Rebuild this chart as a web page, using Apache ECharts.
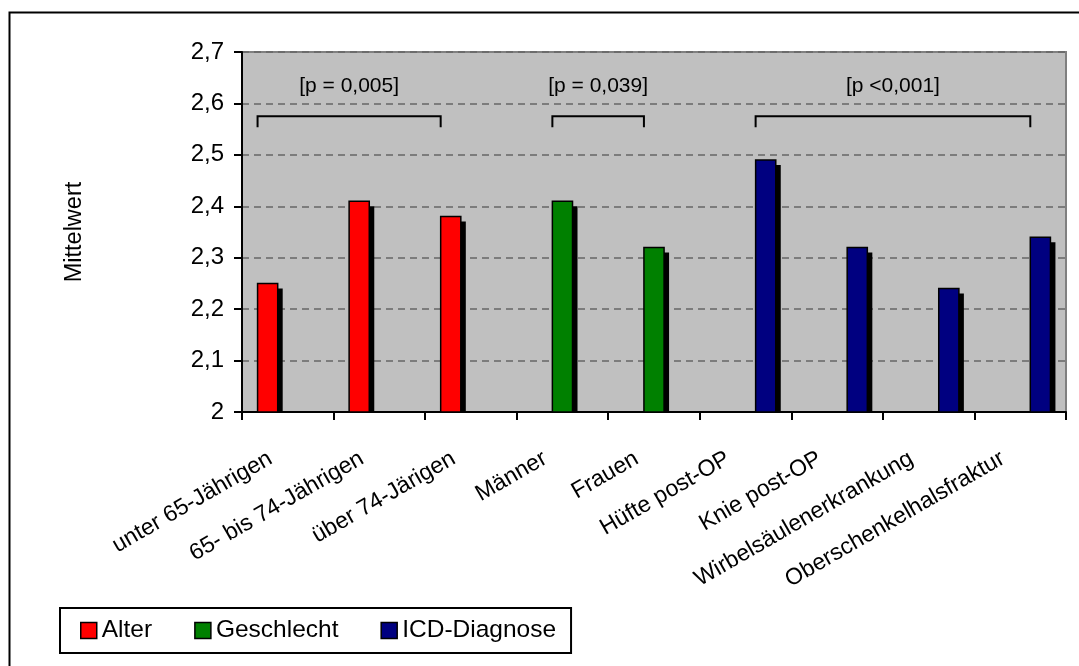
<!DOCTYPE html>
<html>
<head>
<meta charset="utf-8">
<title>Mittelwert nach Alter, Geschlecht und ICD-Diagnose</title>
<script src="https://cdn.jsdelivr.net/npm/echarts@6/dist/echarts.min.js"></script>
<style>
  html, body { margin: 0; padding: 0; background: #fff; }
  #chart { width: 1079px; height: 666px; }
</style>
</head>
<body>
<div id="chart"></div>
<script>
// Categories along the x axis
const categories = [
  'unter 65-Jährigen', '65- bis 74-Jährigen', 'über 74-Järigen',
  'Männer', 'Frauen',
  'Hüfte post-OP', 'Knie post-OP', 'Wirbelsäulenerkrankung', 'Oberschenkelhalsfraktur'
];

// Mean values per group (null = no bar in that category)
const alter      = [2.25, 2.41, 2.38, null, null, null, null, null, null];
const geschlecht = [null, null, null, 2.41, 2.32, null, null, null, null];
const icd        = [null, null, null, null, null, 2.49, 2.32, 2.24, 2.34];

const seriesNames = ['Alter', 'Geschlecht', 'ICD-Diagnose'];
const yTickLabels = ['2', '2,1', '2,2', '2,3', '2,4', '2,5', '2,6', '2,7'];

// Significance brackets: first and last category of each tested group
const bracketFrom = [0, 3, 5];
const bracketTo   = [2, 4, 8];
const pLabels     = ['[p = 0,005]', '[p = 0,039]', '[p <0,001]'];

const FONT = 'Liberation Sans, Arial, sans-serif';
const COLORS = ['#FF0000', '#008000', '#000080'];
const Y_MIN = 2, Y_MAX = 2.7, Y_STEP = 0.1;
const BAR_FRACTION = 0.22;      // bar width as share of a category slot
const BRACKET_LEVEL = 2.575;    // height of the bracket bar in data units

function toPairs(arr) {
  return arr.map((v, i) => [i, v]).filter(d => d[1] != null);
}

// Bars with a solid black drop shadow to the lower right
function barRenderer(k) {
  return function (params, api) {
    const ci = api.value(0), v = api.value(1);
    const cw = api.size([1, 0])[0];
    const bw = cw * BAR_FRACTION;
    const top = api.coord([ci, v]);
    const base = api.coord([ci, Y_MIN]);
    const x = top[0] + (k - 1) * bw - bw / 2;
    const y = top[1];
    const h = base[1] - top[1];
    const sh = 5;
    return {
      type: 'group',
      children: [
        { type: 'rect', shape: { x: x + sh, y: y + sh, width: bw, height: Math.max(0, h - sh) },
          style: { fill: '#000' } },
        { type: 'rect', shape: { x: x, y: y, width: bw, height: h },
          style: { fill: COLORS[k], stroke: '#000', lineWidth: 1.5 } }
      ]
    };
  };
}

// Bracket spanning the bars of one group, with its p-value above
function bracketRenderer(params, api) {
  const k = params.dataIndex;
  const cw = api.size([1, 0])[0];
  const bw = cw * BAR_FRACTION;
  const a = api.coord([api.value(0), BRACKET_LEVEL]);
  const b = api.coord([api.value(1), BRACKET_LEVEL]);
  const left = a[0] + (k - 1) * bw - bw / 2;
  const right = b[0] + (k - 1) * bw - bw / 2;
  const yt = a[1];
  const yb = yt + 11;
  return {
    type: 'group',
    children: [
      { type: 'polyline',
        shape: { points: [[left, yb], [left, yt], [right, yt], [right, yb]] },
        style: { stroke: '#000', lineWidth: 2, fill: null } },
      { type: 'text',
        style: { x: (left + right) / 2, y: yt - 30, text: pLabels[k],
                 font: '21px ' + FONT, fill: '#000',
                 align: 'center', verticalAlign: 'middle',
                 textAlign: 'center', textVerticalAlign: 'middle' } }
    ]
  };
}

const groupData = [alter, geschlecht, icd];

const option = {
  animation: false,
  backgroundColor: '#fff',
  color: COLORS,
  textStyle: { fontFamily: FONT, color: '#000' },
  graphic: [
    { type: 'rect', left: 7, top: 10, silent: true,
      shape: { x: 0, y: 0, width: 1090, height: 680 },
      style: { fill: null, stroke: '#000', lineWidth: 2 } }
  ],
  grid: {
    left: 242, top: 52, right: 13, bottom: 254,
    show: true, backgroundColor: '#C0C0C0', borderColor: '#808080', borderWidth: 2
  },
  legend: {
    data: seriesNames,
    left: 60, top: 608,
    orient: 'horizontal',
    icon: 'rect',
    itemWidth: 16, itemHeight: 16, itemGap: 42,
    padding: [10, 15, 10, 20],
    borderColor: '#000', borderWidth: 2,
    backgroundColor: '#fff',
    itemStyle: { borderColor: '#000', borderWidth: 1.5 },
    textStyle: { fontSize: 24.5, fontFamily: FONT, color: '#000' }
  },
  xAxis: {
    type: 'category',
    data: categories,
    boundaryGap: true,
    axisLine: { show: true, lineStyle: { color: '#000', width: 2 } },
    axisTick: { show: true, length: 8, alignWithLabel: false, lineStyle: { color: '#000', width: 2 } },
    axisLabel: {
      interval: 0, rotate: 30, margin: 35, padding: [0, 20, 0, 0],
      fontSize: 23, fontFamily: FONT, color: '#000'
    },
    splitLine: { show: false }
  },
  yAxis: {
    type: 'value',
    min: Y_MIN, max: Y_MAX, interval: Y_STEP,
    name: 'Mittelwert',
    nameLocation: 'middle',
    nameGap: 155,
    nameTextStyle: { fontSize: 23.5, fontFamily: FONT, color: '#000' },
    axisLine: { show: true, lineStyle: { color: '#000', width: 2 } },
    axisTick: { show: true, length: 8, lineStyle: { color: '#000', width: 2 } },
    axisLabel: {
      margin: 18, fontSize: 24, fontFamily: FONT, color: '#000',
      formatter: (v, i) => yTickLabels[i]
    },
    splitLine: { show: true, lineStyle: { color: '#666', width: 1.5, type: [7, 5] } }
  },
  series: [
    ...seriesNames.map((name, k) => ({
      type: 'custom',
      name: name,
      itemStyle: { color: COLORS[k], borderColor: '#000', borderWidth: 1.5 },
      encode: { x: 0, y: 1 },
      data: toPairs(groupData[k]),
      renderItem: barRenderer(k),
      z: 3
    })),
    {
      type: 'custom',
      name: 'brackets',
      silent: true,
      encode: { x: [0, 1] },
      data: bracketFrom.map((f, i) => [f, bracketTo[i]]),
      renderItem: bracketRenderer,
      z: 4
    }
  ]
};

const chart = echarts.init(document.getElementById('chart'), null, { renderer: 'canvas' });
chart.setOption(option);
</script>
</body>
</html>
